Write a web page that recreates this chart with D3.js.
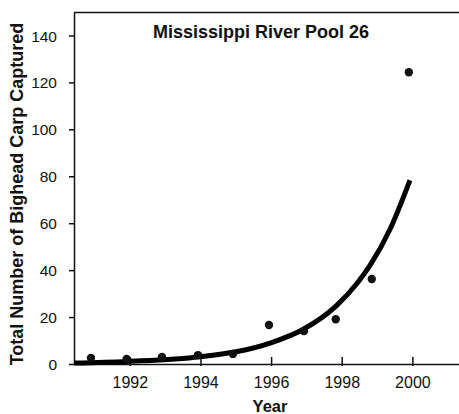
<!doctype html>
<html>
<head>
<meta charset="utf-8">
<script src="https://d3js.org/d3.v7.min.js"></script>
<style>
  body { margin: 0; background: #fff; }
  text { font-family: "Liberation Sans", Arial, sans-serif; fill: #111; }
</style>
</head>
<body>
<svg class="plot"></svg>
<script>
var years = [1990.9, 1991.91, 1992.91, 1993.93, 1994.92, 1995.94, 1996.93, 1997.83, 1998.85, 1999.9];
var catches = [2.6, 2.1, 3.0, 3.8, 4.3, 16.6, 14, 19.1, 36.2, 124.3];

// fitted trend line
var fitYears = [1990.42, 1991.91, 1993.99, 1995.97, 1996.9, 1997.86, 1998.43, 1998.8, 1999.36, 1999.93];
var fitValues = [0.4, 1.1, 3.1, 8.9, 14.7, 25, 34.3, 42, 57.2, 78.3];

var xTicks = [1992, 1994, 1996, 1998, 2000];
var yTicks = [0, 20, 40, 60, 80, 100, 120, 140];

var plotWidth = 459, plotHeight = 414;
var padLeft = 74, padTop = 12, axisY = 364;

var svg = d3.select(".plot").attr("width", plotWidth).attr("height", plotHeight);

var x = d3.scaleLinear().domain([1990.42, 2001.32]).range([padLeft, plotWidth]);
var y = d3.scaleLinear().domain([0, 150]).range([axisY, padTop]);

// frame: top line
svg.append("line")
    .attr("x1", padLeft).attr("x2", plotWidth)
    .attr("y1", padTop + 0.5).attr("y2", padTop + 0.5)
    .attr("stroke", "#111").attr("stroke-width", 1.5);

var yAxis = svg.append("g")
    .attr("transform", "translate(" + padLeft + ",0)")
    .call(d3.axisLeft(y).tickValues(yTicks).tickSize(5).tickPadding(12).tickSizeOuter(0));
yAxis.select(".domain").attr("stroke", "#111").attr("stroke-width", 1.5);
yAxis.selectAll(".tick line").attr("stroke", "#111").attr("stroke-width", 1.5);
yAxis.selectAll(".tick text").style("font-size", "15.5px").attr("dy", "0.36em");

var xAxis = svg.append("g")
    .attr("transform", "translate(0," + axisY + ")")
    .call(d3.axisBottom(x).tickValues(xTicks).tickFormat(d3.format("d")).tickSize(-7).tickPadding(13).tickSizeOuter(0));
xAxis.select(".domain").attr("stroke", "#111").attr("stroke-width", 1.5);
xAxis.selectAll(".tick line").attr("stroke", "#111").attr("stroke-width", 1.5).attr("y2", 2).attr("y1", -7);
xAxis.selectAll(".tick text").style("font-size", "16px").attr("y", 13).attr("dy", "0.71em");

// trend line
var line = d3.line()
    .x(function(d, i) { return x(fitYears[i]); })
    .y(function(d) { return y(d); })
    .curve(d3.curveMonotoneX);

svg.append("path")
    .attr("d", line(fitValues))
    .attr("fill", "none")
    .attr("stroke", "#000")
    .attr("stroke-width", 5);

svg.selectAll(".dot")
    .data(catches)
    .enter().append("circle")
    .attr("class", "dot")
    .attr("cx", function(d, i) { return x(years[i]); })
    .attr("cy", function(d) { return y(d); })
    .attr("r", 4.2)
    .attr("fill", "#111");

svg.append("text")
    .attr("x", 261).attr("y", 38)
    .attr("text-anchor", "middle")
    .style("font-size", "18px").style("font-weight", "bold")
    .text("Mississippi River Pool 26");

svg.append("text")
    .attr("x", 270).attr("y", 412)
    .attr("text-anchor", "middle")
    .style("font-size", "16.5px").style("font-weight", "bold")
    .text("Year");

svg.append("text")
    .attr("transform", "translate(23,194) rotate(-90)")
    .attr("text-anchor", "middle")
    .style("font-size", "18px").style("font-weight", "bold")
    .text("Total Number of Bighead Carp Captured");
</script>
</body>
</html>
